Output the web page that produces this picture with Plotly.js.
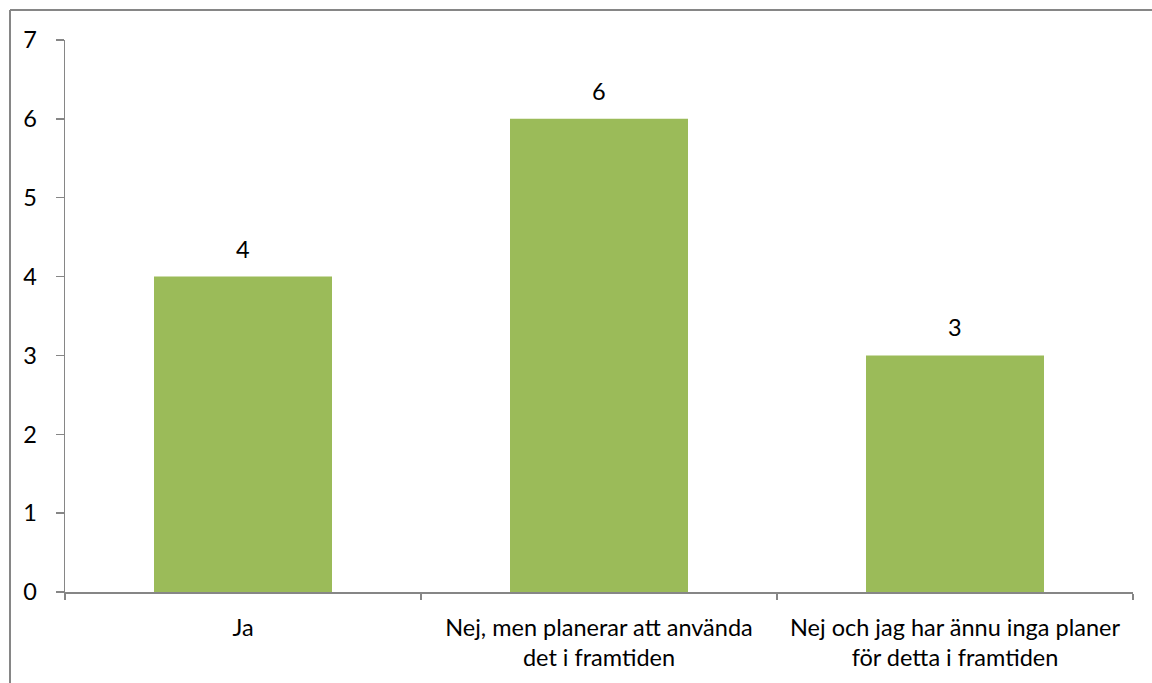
<!DOCTYPE html>
<html>
<head>
<meta charset="utf-8">
<script src="https://cdn.plot.ly/plotly-3.0.1.min.js"></script>
<style>body{margin:0;padding:0;background:#fff}#chart{width:1152px;height:683px}</style>
</head>
<body>
<div id="chart"></div>
<script>
const categories = ["Ja", "Nej, men planerar att använda<br>det i framtiden", "Nej och jag har ännu inga planer<br>för detta i framtiden"];
const values = [4, 6, 3];
const yTicks = [0, 1, 2, 3, 4, 5, 6, 7];

const font = {family: "Lato, 'Open Sans', sans-serif", size: 23.5, color: "#000"};

const trace = {
  type: "bar",
  x: categories,
  y: values,
  marker: {color: "#9BBB59"},
  hoverinfo: "none"
};

const labels = categories.map((c, i) => ({
  x: c, y: values[i], xref: "x", yref: "y",
  text: String(values[i]), showarrow: false,
  yshift: 28, yanchor: "middle", font: font
}));

const layout = {
  width: 1152, height: 683,
  margin: {l: 65, r: 19, t: 40, b: 91},
  paper_bgcolor: "#fff", plot_bgcolor: "#fff",
  font: font,
  showlegend: false,
  bargap: 0.5,
  xaxis: {
    type: "category",
    showline: true, linecolor: "#868686", linewidth: 1.5,
    ticks: "outside", tickson: "boundaries", ticklen: 6, tickcolor: "#868686", tickwidth: 1.5,
    showgrid: false, zeroline: false,
    tickfont: font,
    ticklabelstandoff: 14
  },
  yaxis: {
    range: [0, 7],
    tickvals: yTicks,
    showline: true, linecolor: "#868686", linewidth: 1.5,
    ticks: "outside", ticklen: 8, tickcolor: "#868686", tickwidth: 1.5,
    showgrid: false, zeroline: false,
    tickfont: font,
    ticklabelstandoff: 14
  },
  annotations: labels,
  shapes: [
    {type: "line", xref: "paper", yref: "paper", x0: -0.0515, x1: 1.2, y0: 1.0543, y1: 1.0543, line: {color: "#868686", width: 2}},
    {type: "line", xref: "paper", yref: "paper", x0: -0.0515, x1: -0.0515, y0: -0.3, y1: 1.0543, line: {color: "#868686", width: 2}}
  ]
};

Plotly.newPlot("chart", [trace], layout, {displayModeBar: false, staticPlot: true});
</script>
</body>
</html>
